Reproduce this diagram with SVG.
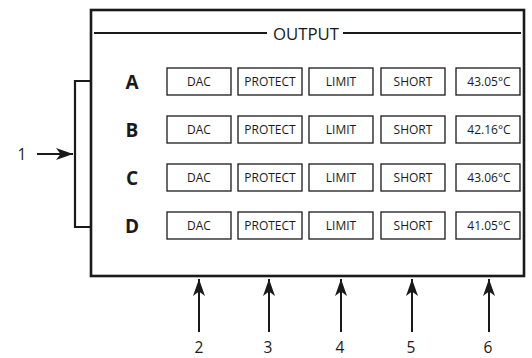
<svg xmlns="http://www.w3.org/2000/svg" width="532" height="358" viewBox="0 0 532 358">
<defs>
<marker id="ah" markerUnits="userSpaceOnUse" markerWidth="20" markerHeight="14" viewBox="-18 -7 19 14" refX="0" refY="0" orient="auto">
<path d="M0,0 L-17,-6 L-12.5,0 L-17,6 Z" fill="#1a1a1a"/>
</marker>
<style>
.frame{fill:#fff;stroke:#1a1a1a;stroke-width:2.6}
.ln{fill:none;stroke:#1a1a1a;stroke-width:2.2}
.box{fill:#fff;stroke:#1a1a1a;stroke-width:1.3}
.bt{font-family:"Open Sans","Liberation Sans",sans-serif;font-size:12px;fill:#1a1a1a;text-anchor:middle}
.row{font-family:"Open Sans","Liberation Sans",sans-serif;font-size:19px;font-weight:bold;fill:#1a1a1a;text-anchor:middle}
.num{font-family:"Open Sans","Liberation Sans",sans-serif;font-size:15.5px;fill:#1a1a1a;text-anchor:middle}
.title{font-family:"Open Sans","Liberation Sans",sans-serif;font-size:17px;fill:#1a1a1a;text-anchor:middle}
.arr{fill:none;stroke:#1a1a1a;stroke-width:2;marker-end:url(#ah)}
</style>
</defs>
<g id="panel">
<rect class="frame" x="91" y="10" width="433" height="266"/>
<line class="ln" x1="94" y1="33" x2="267" y2="33"/>
<line class="ln" x1="343" y1="33" x2="521" y2="33"/>
<text class="title" x="306" y="40" textLength="66" lengthAdjust="spacingAndGlyphs">OUTPUT</text>
</g>
<g id="bracket">
<path class="ln" d="M91,81 H75 V227 H91"/>
</g>
<g id="rowA">
<text class="row" x="132" y="88.5">A</text>
<rect class="box" x="167" y="68" width="64" height="27"/><text class="bt" x="199" y="85.5">DAC</text>
<rect class="box" x="238" y="68" width="64" height="27"/><text class="bt" x="270" y="85.5">PROTECT</text>
<rect class="box" x="309" y="68" width="64" height="27"/><text class="bt" x="341" y="85.5">LIMIT</text>
<rect class="box" x="381" y="68" width="64" height="27"/><text class="bt" x="413" y="85.5">SHORT</text>
<rect class="box" x="456" y="68" width="64" height="27"/><text class="bt" x="489" y="85.5">43.05°C</text>
</g>
<g id="rowB">
<text class="row" x="132" y="136.5">B</text>
<rect class="box" x="167" y="116" width="64" height="27"/><text class="bt" x="199" y="133.5">DAC</text>
<rect class="box" x="238" y="116" width="64" height="27"/><text class="bt" x="270" y="133.5">PROTECT</text>
<rect class="box" x="309" y="116" width="64" height="27"/><text class="bt" x="341" y="133.5">LIMIT</text>
<rect class="box" x="381" y="116" width="64" height="27"/><text class="bt" x="413" y="133.5">SHORT</text>
<rect class="box" x="456" y="116" width="64" height="27"/><text class="bt" x="489" y="133.5">42.16°C</text>
</g>
<g id="rowC">
<text class="row" x="132" y="184.5">C</text>
<rect class="box" x="167" y="164" width="64" height="27"/><text class="bt" x="199" y="181.5">DAC</text>
<rect class="box" x="238" y="164" width="64" height="27"/><text class="bt" x="270" y="181.5">PROTECT</text>
<rect class="box" x="309" y="164" width="64" height="27"/><text class="bt" x="341" y="181.5">LIMIT</text>
<rect class="box" x="381" y="164" width="64" height="27"/><text class="bt" x="413" y="181.5">SHORT</text>
<rect class="box" x="456" y="164" width="64" height="27"/><text class="bt" x="489" y="181.5">43.06°C</text>
</g>
<g id="rowD">
<text class="row" x="132" y="232.5">D</text>
<rect class="box" x="167" y="212" width="64" height="27"/><text class="bt" x="199" y="229.5">DAC</text>
<rect class="box" x="238" y="212" width="64" height="27"/><text class="bt" x="270" y="229.5">PROTECT</text>
<rect class="box" x="309" y="212" width="64" height="27"/><text class="bt" x="341" y="229.5">LIMIT</text>
<rect class="box" x="381" y="212" width="64" height="27"/><text class="bt" x="413" y="229.5">SHORT</text>
<rect class="box" x="456" y="212" width="64" height="27"/><text class="bt" x="489" y="229.5">41.05°C</text>
</g>
<g id="connectors">
<line class="arr" x1="37" y1="154" x2="73" y2="154"/>
<line class="arr" x1="199" y1="332" x2="199" y2="279"/>
<line class="arr" x1="269" y1="332" x2="269" y2="279"/>
<line class="arr" x1="341" y1="332" x2="341" y2="279"/>
<line class="arr" x1="412" y1="332" x2="412" y2="279"/>
<line class="arr" x1="489" y1="332" x2="489" y2="279"/>
</g>
<g id="labels">
<text class="num" x="22" y="159.5">1</text>
<text class="num" x="199" y="353">2</text>
<text class="num" x="268" y="353">3</text>
<text class="num" x="340" y="353">4</text>
<text class="num" x="411" y="353">5</text>
<text class="num" x="488" y="353">6</text>
</g>
</svg>
